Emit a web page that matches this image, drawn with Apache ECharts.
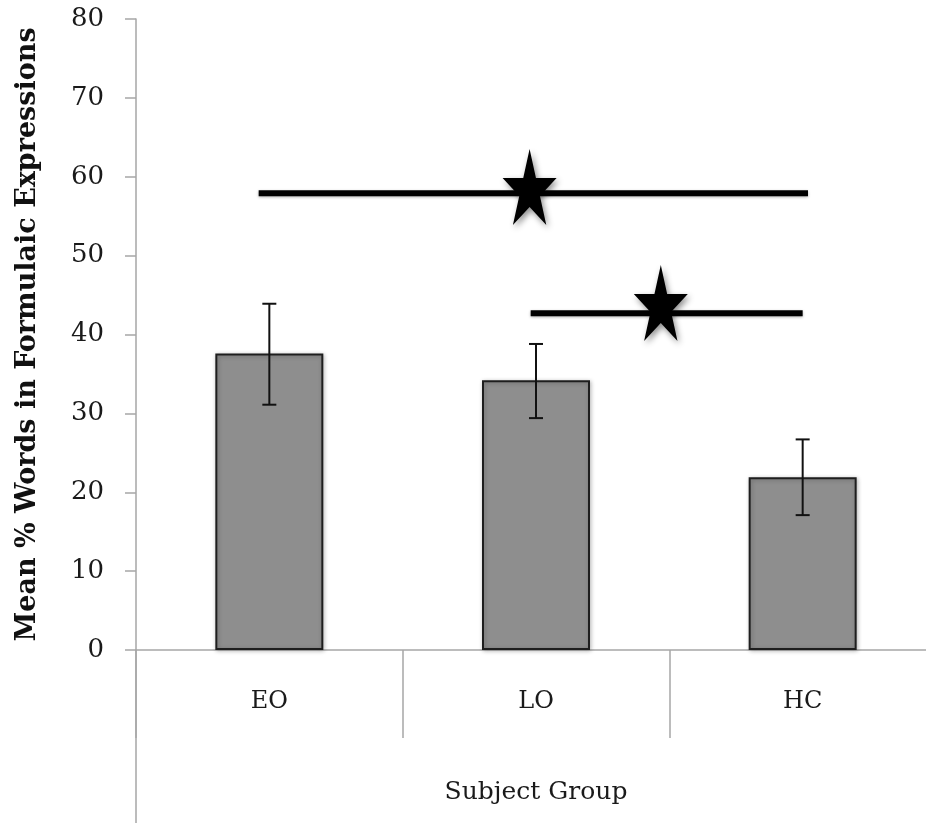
<!DOCTYPE html>
<html>
<head>
<meta charset="utf-8">
<script src="https://cdn.jsdelivr.net/npm/echarts@6/dist/echarts.min.js"></script>
<style>
html,body{margin:0;padding:0;background:#fff;}
#chart{width:926px;height:823px;}
</style>
</head>
<body>
<div id="chart"></div>
<script>
const categories = ['EO', 'LO', 'HC'];
const means = [37.6, 34.2, 21.9];
const errLow = [31.1, 29.4, 17.1];
const errHigh = [43.9, 38.8, 26.7];
const yTicks = [0, 10, 20, 30, 40, 50, 60, 70, 80];
// significance brackets in category-index units (x) and value units (y)
const sigLine1 = [[-0.04, 57.9], [2.02, 57.9]];
const sigLine2 = [[0.98, 42.7], [2.0, 42.7]];
const stars = [[0.976, 58.7], [1.468, 44.0]];

const FONT = 'DejaVu Serif';
const starPath = 'path://M50,0 L61.2,34.5 L97.6,34.5 L68.2,55.9 L79.4,90.5 L50,69.1 L20.6,90.5 L31.8,55.9 L2.4,34.5 L38.8,34.5 Z';

const chart = echarts.init(document.getElementById('chart'), null, {renderer: 'canvas'});

const errData = categories.map((c, i) => [i, errLow[i], errHigh[i]]);

chart.setOption({
  animation: false,
  backgroundColor: '#fff',
  grid: {left: 136, top: 19, width: 800, bottom: 173, containLabel: false, outerBoundsMode: 'none'},
  xAxis: [{
    type: 'category',
    data: categories,
    axisLine: {show: true, onZero: false, lineStyle: {color: '#a6a6a6', width: 1.5}},
    axisTick: {show: true, length: 88, lineStyle: {color: '#a6a6a6', width: 1.5}},
    axisLabel: {fontFamily: FONT, fontSize: 24, color: '#1a1a1a', margin: 40},
    name: 'Subject Group',
    nameLocation: 'middle',
    nameGap: 130,
    nameTextStyle: {fontFamily: FONT, fontSize: 25, color: '#1a1a1a'}
  }, {
    type: 'value',
    min: -0.5,
    max: 2.5,
    show: false
  }],
  yAxis: {
    type: 'value',
    min: 0,
    max: 80,
    interval: 10,
    splitLine: {show: false},
    axisLine: {show: true, onZero: false, lineStyle: {color: '#a6a6a6', width: 1.5}},
    axisTick: {show: true, length: 11, lineStyle: {color: '#a6a6a6', width: 1.5}},
    axisLabel: {fontFamily: FONT, fontSize: 26, color: '#1a1a1a', margin: 32,
      formatter: v => yTicks.includes(v) ? String(v) : ''},
    name: 'Mean % Words in Formulaic Expressions',
    nameLocation: 'middle',
    nameGap: 95,
    nameRotate: 90,
    nameTextStyle: {fontFamily: FONT, fontSize: 27, fontWeight: 'bold', color: '#111'}
  },
  series: [{
    type: 'bar',
    data: means,
    barWidth: '40.5%',
    itemStyle: {color: '#8e8e8e', borderColor: '#1e1e1e', borderWidth: 2,
      shadowBlur: 4, shadowColor: 'rgba(0,0,0,0.25)', shadowOffsetX: 1, shadowOffsetY: 1}
  }, {
    type: 'custom',
    data: errData,
    z: 5,
    renderItem: function (params, api) {
      const lo = api.coord([api.value(0), api.value(1)]);
      const hi = api.coord([api.value(0), api.value(2)]);
      const cap = 7;
      const st = {stroke: '#111', lineWidth: 2};
      return {type: 'group', children: [
        {type: 'line', shape: {x1: hi[0], y1: hi[1], x2: lo[0], y2: lo[1]}, style: st},
        {type: 'line', shape: {x1: hi[0] - cap, y1: hi[1], x2: hi[0] + cap, y2: hi[1]}, style: st},
        {type: 'line', shape: {x1: lo[0] - cap, y1: lo[1], x2: lo[0] + cap, y2: lo[1]}, style: st}
      ]};
    }
  }, {
    type: 'line',
    xAxisIndex: 1,
    data: sigLine1,
    symbol: 'none',
    lineStyle: {color: '#000', width: 6, shadowBlur: 3, shadowColor: 'rgba(0,0,0,0.3)', shadowOffsetY: 1},
    z: 6
  }, {
    type: 'line',
    xAxisIndex: 1,
    data: sigLine2,
    symbol: 'none',
    lineStyle: {color: '#000', width: 6, shadowBlur: 3, shadowColor: 'rgba(0,0,0,0.3)', shadowOffsetY: 1},
    z: 6
  }, {
    type: 'scatter',
    xAxisIndex: 1,
    data: stars,
    symbol: starPath,
    symbolKeepAspect: false,
    symbolSize: [54, 76],
    itemStyle: {color: '#000', opacity: 1, shadowBlur: 6, shadowColor: 'rgba(0,0,0,0.45)', shadowOffsetX: 2, shadowOffsetY: 3},
    z: 7
  }]
});

// extend the value axis line down through the category label area (Excel style)
const p0 = chart.convertToPixel({xAxisIndex: 1, yAxisIndex: 0}, [-0.5, 0]);
chart.setOption({
  graphic: [{
    type: 'line',
    shape: {x1: p0[0], y1: p0[1], x2: p0[0], y2: 823},
    style: {stroke: '#a6a6a6', lineWidth: 1.5},
    silent: true
  }]
});
</script>
</body>
</html>
